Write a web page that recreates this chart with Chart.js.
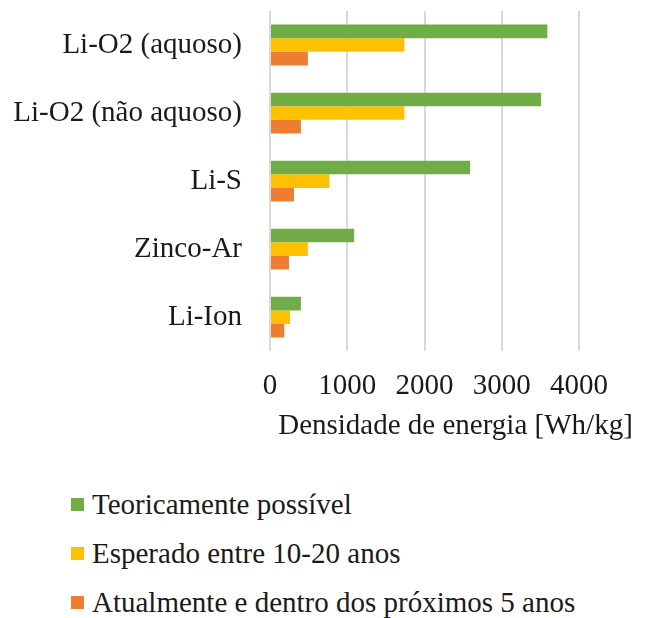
<!DOCTYPE html>
<html lang="pt">
<head>
<meta charset="utf-8">
<title>Densidade de energia</title>
<script src="https://cdn.jsdelivr.net/npm/chart.js@4.4.1/dist/chart.umd.min.js"></script>
<style>
  body { margin: 0; background: #fff; }
  #wrap { position: relative; width: 649px; height: 460px; }
  #legenda {
    margin-top: 20px;
    padding-left: 71px;
    font-family: "Liberation Serif", "Times New Roman", serif;
    font-size: 29px;
    color: #1a1a1a;
  }
  #legenda .item { height: 49px; line-height: 49px; display: flex; align-items: center; }
  #legenda .box { width: 13px; height: 13px; margin-right: 8px; }
</style>
</head>
<body>
<div id="wrap"><canvas id="grafico"></canvas></div>
<div id="legenda"></div>

<script>
// dados
const categorias = ['Li-O2 (aquoso)', 'Li-O2 (não aquoso)', 'Li-S', 'Zinco-Ar', 'Li-Ion'];
const teoricamente = [3590, 3510, 2590, 1090, 400];
const esperado = [1740, 1740, 770, 490, 260];
const atualmente = [490, 400, 310, 245, 185];
const nomesSeries = ['Teoricamente possível', 'Esperado entre 10-20 anos', 'Atualmente e dentro dos próximos 5 anos'];
const coresSeries = ['#70AD47', '#FFC000', '#ED7D31'];
const ticksX = [0, 1000, 2000, 3000, 4000];
const tituloX = 'Densidade de energia [Wh/kg]';

const fonte = '"Liberation Serif", "Times New Roman", serif';
const tamFonte = 29;
const corTexto = '#1a1a1a';

// titulo do eixo x desenhado um pouco à direita, como no original
const tituloEixoX = {
  id: 'tituloEixoX',
  afterDraw(chart) {
    const { ctx, chartArea } = chart;
    ctx.save();
    ctx.font = tamFonte + 'px ' + fonte;
    ctx.fillStyle = corTexto;
    ctx.textAlign = 'center';
    ctx.textBaseline = 'middle';
    ctx.fillText(tituloX, (chartArea.left + chartArea.right) / 2 + 31, chartArea.bottom + 75);
    ctx.restore();
  }
};

const ctx = document.getElementById('grafico').getContext('2d');
const chart = new Chart(ctx, {
  type: 'bar',
  data: {
    labels: categorias,
    datasets: [teoricamente, esperado, atualmente].map((valores, i) => ({
      label: nomesSeries[i],
      data: valores,
      backgroundColor: coresSeries[i],
      borderWidth: 0,
      categoryPercentage: 0.6,
      barPercentage: 1.0
    }))
  },
  options: {
    indexAxis: 'y',
    responsive: true,
    maintainAspectRatio: false,
    animation: false,
    layout: { padding: { left: 0, right: 70, top: 11, bottom: 38 } },
    scales: {
      x: {
        min: 0,
        max: 4000,
        afterBuildTicks: (scale) => { scale.ticks = ticksX.map(v => ({ value: v })); },
        grid: { color: '#d9d9d9', lineWidth: 2, drawTicks: false },
        border: { display: false },
        ticks: {
          color: corTexto,
          font: { family: fonte, size: tamFonte },
          padding: 18,
          maxRotation: 0,
          callback: (v) => String(v)
        }
      },
      y: {
        afterFit: (scale) => {
          scale.width = 270;
          scale.paddingTop = 0;
          scale.paddingBottom = 0;
        },
        grid: { display: false, drawTicks: false },
        border: { display: false },
        ticks: { color: corTexto, font: { family: fonte, size: tamFonte }, padding: 28 }
      }
    },
    plugins: {
      legend: { display: false },
      tooltip: { enabled: false }
    }
  },
  plugins: [tituloEixoX]
});

// legenda em lista vertical, montada a partir dos datasets
const legenda = document.getElementById('legenda');
chart.data.datasets.forEach(ds => {
  const item = document.createElement('div');
  item.className = 'item';
  const box = document.createElement('span');
  box.className = 'box';
  box.style.background = ds.backgroundColor;
  const txt = document.createElement('span');
  txt.textContent = ds.label;
  item.appendChild(box);
  item.appendChild(txt);
  legenda.appendChild(item);
});
</script>
</body>
</html>
